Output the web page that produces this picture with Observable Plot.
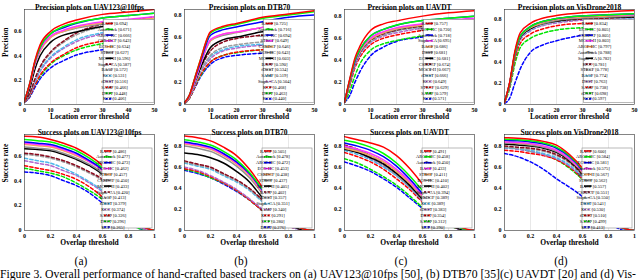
<!DOCTYPE html>
<html><head><meta charset="utf-8">
<script src="https://cdn.jsdelivr.net/npm/d3@7"></script>
<script src="https://cdn.jsdelivr.net/npm/@observablehq/plot@0.6"></script>
<style>
html,body{margin:0;padding:0;background:#fff;}
#fig{position:relative;width:640px;height:280px;overflow:hidden;font-family:"Liberation Serif","DejaVu Serif",serif;background:#fff;}
.panel{position:absolute;}
.sub{position:absolute;top:255px;width:40px;text-align:center;font-size:11.5px;line-height:12px;}
#cap{position:absolute;left:0px;top:269px;font-size:11.7px;line-height:12px;white-space:nowrap;}
</style></head><body><div id="fig"></div>
<script>
// ---------- data ----------
const datasets = ["UAV123@10fps","DTB70","UAVDT","VisDrone2018"];
const subLabels = ["(a)","(b)","(c)","(d)"];
const precX = [0,2,4,6,10,15,20,30,40,50];
const succX = [0,0.1,0.2,0.3,0.4,0.5,0.6,0.7,0.8,0.9,1];
const precXTicks = [0,10,20,30,40,50];
const succXTicks = [0,0.2,0.4,0.6,0.8,1];

// Precision, UAV123@10fps
const precANames = ["RACF","AutoTrack","ARCF-HC","CSR-DCF","ECO-HC","STRCF","MCCT-H","Staple-CA","BACF","KCC","fDSST","SAMF","DSST","KCF"];
const precAScores = [0.694,0.671,0.666,0.643,0.634,0.627,0.596,0.587,0.572,0.531,0.516,0.466,0.448,0.406];
const precAValues = [
 [0.03,0.17,0.36,0.49,0.60,0.66,0.694,0.74,0.76,0.78],
 [0.03,0.17,0.35,0.47,0.58,0.64,0.671,0.71,0.73,0.75],
 [0.03,0.17,0.35,0.47,0.58,0.63,0.666,0.71,0.73,0.75],
 [0.03,0.16,0.33,0.45,0.56,0.61,0.643,0.68,0.70,0.72],
 [0.03,0.16,0.33,0.44,0.55,0.60,0.634,0.67,0.69,0.71],
 [0.03,0.16,0.33,0.44,0.55,0.60,0.627,0.66,0.68,0.70],
 [0.03,0.13,0.29,0.40,0.51,0.57,0.596,0.64,0.66,0.68],
 [0.03,0.09,0.21,0.31,0.43,0.52,0.587,0.66,0.69,0.72],
 [0.03,0.09,0.20,0.30,0.42,0.51,0.572,0.64,0.67,0.70],
 [0.03,0.08,0.19,0.28,0.39,0.47,0.531,0.59,0.63,0.65],
 [0.03,0.08,0.18,0.27,0.38,0.46,0.516,0.58,0.61,0.63],
 [0.02,0.07,0.16,0.24,0.34,0.41,0.466,0.52,0.55,0.57],
 [0.02,0.07,0.16,0.23,0.33,0.40,0.448,0.50,0.53,0.55],
 [0.02,0.06,0.14,0.21,0.30,0.36,0.406,0.45,0.48,0.50]];

// Precision, DTB70
const precBNames = ["RACF","AutoTrack","ARCF-HC","STRCF","CSRDCF","ECO-HC","MCCT-H","BACF","fDSST","SAMF","Staple-CA","KCF","DSST","KCC"];
const precBScores = [0.725,0.716,0.694,0.649,0.646,0.643,0.603,0.590,0.534,0.519,0.504,0.468,0.463,0.440];
const precBValues = [
 [0.015,0.09,0.24,0.39,0.65,0.70,0.725,0.78,0.81,0.84],
 [0.015,0.09,0.24,0.39,0.64,0.69,0.716,0.77,0.80,0.83],
 [0.015,0.09,0.23,0.37,0.62,0.67,0.694,0.74,0.78,0.80],
 [0.013,0.08,0.21,0.35,0.58,0.63,0.649,0.69,0.73,0.75],
 [0.013,0.08,0.21,0.35,0.57,0.63,0.646,0.69,0.72,0.75],
 [0.013,0.08,0.21,0.35,0.57,0.62,0.643,0.69,0.72,0.74],
 [0.012,0.08,0.20,0.32,0.51,0.58,0.603,0.65,0.67,0.69],
 [0.012,0.08,0.21,0.32,0.48,0.56,0.590,0.62,0.64,0.65],
 [0.011,0.07,0.19,0.29,0.44,0.51,0.534,0.56,0.58,0.59],
 [0.010,0.07,0.18,0.29,0.43,0.49,0.519,0.54,0.56,0.57],
 [0.010,0.07,0.18,0.28,0.41,0.48,0.504,0.53,0.54,0.55],
 [0.009,0.06,0.16,0.26,0.38,0.44,0.468,0.49,0.51,0.51],
 [0.009,0.06,0.16,0.25,0.38,0.44,0.463,0.49,0.50,0.51],
 [0.009,0.06,0.15,0.24,0.36,0.42,0.440,0.46,0.48,0.48]];

// Precision, UAVDT
const precCNames = ["RACF","ARCF-HC","AutoTrack","Staple-CA","BACF","DSST","ECO-HC","CSRDCF","MCCT-H","fDSST","KCC","STRCF","SAMF","KCF"];
const precCScores = [0.757,0.720,0.718,0.695,0.686,0.681,0.681,0.674,0.667,0.666,0.649,0.629,0.579,0.571];
const precCValues = [
 [0.02,0.23,0.42,0.53,0.67,0.73,0.757,0.80,0.83,0.85],
 [0.02,0.22,0.40,0.50,0.62,0.68,0.720,0.76,0.78,0.80],
 [0.02,0.22,0.39,0.50,0.62,0.68,0.718,0.76,0.78,0.80],
 [0.02,0.21,0.38,0.49,0.60,0.66,0.695,0.73,0.76,0.78],
 [0.02,0.21,0.38,0.48,0.59,0.65,0.686,0.72,0.75,0.77],
 [0.02,0.20,0.37,0.48,0.59,0.65,0.681,0.72,0.74,0.76],
 [0.02,0.20,0.37,0.48,0.59,0.65,0.681,0.72,0.74,0.76],
 [0.02,0.20,0.37,0.47,0.58,0.64,0.674,0.71,0.73,0.75],
 [0.02,0.20,0.37,0.47,0.57,0.63,0.667,0.70,0.73,0.75],
 [0.02,0.19,0.36,0.46,0.57,0.63,0.666,0.70,0.72,0.74],
 [0.02,0.19,0.35,0.45,0.56,0.62,0.649,0.69,0.71,0.73],
 [0.02,0.17,0.33,0.43,0.54,0.60,0.629,0.67,0.70,0.72],
 [0.02,0.12,0.26,0.37,0.49,0.55,0.579,0.62,0.64,0.66],
 [0.02,0.08,0.20,0.30,0.44,0.52,0.571,0.61,0.63,0.65]];

// Precision, VisDrone2018
const precDNames = ["RACF","ECO-HC","CSRDCF","MCCT-H","ARCF-HC","AutoTrack","Staple-CA","KCC","STRCF","BACF","DSST","SAMF","fDSST","KCF"];
const precDScores = [0.834,0.805,0.805,0.803,0.797,0.788,0.782,0.781,0.778,0.774,0.763,0.738,0.698,0.597];
const precDValues = [
 [0.02,0.21,0.50,0.67,0.76,0.81,0.834,0.86,0.87,0.88],
 [0.02,0.20,0.48,0.64,0.73,0.78,0.805,0.83,0.84,0.85],
 [0.02,0.20,0.48,0.64,0.73,0.78,0.805,0.83,0.84,0.85],
 [0.02,0.20,0.48,0.64,0.73,0.78,0.803,0.83,0.84,0.84],
 [0.02,0.20,0.48,0.64,0.72,0.77,0.797,0.82,0.83,0.84],
 [0.02,0.20,0.47,0.63,0.72,0.76,0.788,0.81,0.82,0.83],
 [0.02,0.20,0.47,0.63,0.71,0.76,0.782,0.81,0.82,0.82],
 [0.02,0.19,0.46,0.62,0.71,0.76,0.781,0.80,0.81,0.82],
 [0.02,0.19,0.46,0.62,0.71,0.75,0.778,0.80,0.81,0.82],
 [0.02,0.19,0.46,0.61,0.70,0.75,0.774,0.80,0.81,0.81],
 [0.02,0.18,0.45,0.60,0.69,0.74,0.763,0.79,0.80,0.80],
 [0.02,0.17,0.42,0.57,0.66,0.71,0.738,0.76,0.77,0.78],
 [0.02,0.15,0.38,0.53,0.62,0.67,0.698,0.72,0.73,0.74],
 [0.01,0.06,0.20,0.33,0.49,0.56,0.597,0.65,0.69,0.72]];

// Success, UAV123@10fps
const succANames = ["RACF","AutoTrack","ARCF-HC","ECO-HC","STRCF","CSRDCF","MCCT-H","Staple-CA","BACF","fDSST","KCC","SAMF","DSST","KCF"];
const succAScores = [0.486,0.477,0.473,0.462,0.457,0.450,0.433,0.420,0.413,0.379,0.374,0.326,0.296,0.265];
const succAValues = [
 [0.755,0.75,0.73,0.70,0.66,0.60,0.52,0.38,0.19,0.04,0],
 [0.73,0.72,0.71,0.68,0.64,0.58,0.50,0.37,0.18,0.04,0],
 [0.71,0.70,0.69,0.66,0.62,0.56,0.49,0.36,0.18,0.04,0],
 [0.70,0.69,0.68,0.65,0.61,0.55,0.48,0.35,0.17,0.03,0],
 [0.69,0.68,0.67,0.64,0.60,0.55,0.48,0.35,0.17,0.03,0],
 [0.67,0.66,0.65,0.62,0.58,0.53,0.46,0.34,0.17,0.03,0],
 [0.655,0.65,0.64,0.61,0.57,0.52,0.45,0.33,0.16,0.03,0],
 [0.62,0.61,0.59,0.56,0.52,0.47,0.41,0.30,0.16,0.03,0],
 [0.61,0.60,0.58,0.55,0.51,0.46,0.40,0.29,0.15,0.03,0],
 [0.58,0.56,0.54,0.50,0.45,0.39,0.32,0.22,0.10,0.02,0],
 [0.56,0.54,0.52,0.48,0.44,0.38,0.31,0.21,0.10,0.02,0],
 [0.52,0.50,0.48,0.45,0.41,0.35,0.27,0.18,0.09,0.02,0],
 [0.50,0.48,0.46,0.43,0.38,0.32,0.25,0.17,0.08,0.01,0],
 [0.47,0.46,0.44,0.40,0.36,0.30,0.22,0.14,0.06,0.01,0]];

// Success, DTB70
const succBNames = ["RACF","AutoTrack","ARCF-HC","ECO-HC","CSRDCF","STRCF","MCCT-H","BACF","fDSST","Staple-CA","SAMF","KCC","KCF","DSST"];
const succBScores = [0.505,0.478,0.472,0.453,0.438,0.437,0.405,0.402,0.357,0.351,0.340,0.291,0.280,0.276];
const succBValues = [
 [0.895,0.88,0.85,0.79,0.71,0.58,0.41,0.24,0.10,0.02,0],
 [0.86,0.84,0.81,0.75,0.67,0.55,0.39,0.23,0.09,0.02,0],
 [0.84,0.82,0.79,0.73,0.65,0.54,0.38,0.22,0.09,0.02,0],
 [0.83,0.81,0.78,0.72,0.64,0.53,0.37,0.22,0.09,0.02,0],
 [0.82,0.80,0.77,0.71,0.63,0.52,0.36,0.21,0.09,0.02,0],
 [0.80,0.78,0.75,0.69,0.61,0.50,0.35,0.20,0.08,0.02,0],
 [0.735,0.72,0.69,0.64,0.56,0.46,0.31,0.18,0.07,0.01,0],
 [0.66,0.63,0.60,0.54,0.48,0.40,0.29,0.17,0.07,0.01,0],
 [0.65,0.62,0.59,0.53,0.47,0.39,0.28,0.17,0.07,0.01,0],
 [0.64,0.61,0.58,0.52,0.46,0.38,0.27,0.16,0.06,0.01,0],
 [0.60,0.57,0.52,0.46,0.39,0.30,0.20,0.11,0.04,0.01,0],
 [0.585,0.56,0.51,0.45,0.38,0.29,0.19,0.11,0.04,0.01,0],
 [0.58,0.55,0.50,0.45,0.38,0.29,0.19,0.10,0.04,0.01,0],
 [0.57,0.54,0.50,0.44,0.37,0.29,0.19,0.10,0.04,0.01,0]];

// Success, UAVDT
const succCNames = ["RACF","ARCF-HC","AutoTrack","BACF","STRCF","ECO-HC","MCCT-H","Staple-CA","CSRDCF","KCC","fDSST","DSST","SAMF","KCF"];
const succCScores = [0.491,0.458,0.450,0.433,0.411,0.410,0.402,0.394,0.389,0.389,0.383,0.354,0.312,0.290];
const succCValues = [
 [0.89,0.86,0.83,0.79,0.71,0.59,0.44,0.28,0.12,0.03,0],
 [0.855,0.83,0.79,0.73,0.64,0.52,0.38,0.24,0.10,0.02,0],
 [0.83,0.80,0.76,0.70,0.61,0.49,0.35,0.22,0.09,0.02,0],
 [0.80,0.77,0.73,0.67,0.58,0.47,0.33,0.21,0.09,0.02,0],
 [0.78,0.75,0.71,0.65,0.56,0.45,0.32,0.20,0.08,0.02,0],
 [0.79,0.76,0.71,0.65,0.56,0.45,0.31,0.19,0.08,0.02,0],
 [0.77,0.74,0.69,0.63,0.54,0.43,0.30,0.18,0.07,0.01,0],
 [0.81,0.77,0.71,0.64,0.55,0.43,0.30,0.18,0.07,0.01,0],
 [0.79,0.75,0.69,0.62,0.53,0.42,0.29,0.17,0.07,0.01,0],
 [0.76,0.72,0.67,0.60,0.52,0.41,0.29,0.17,0.07,0.01,0],
 [0.78,0.74,0.68,0.61,0.52,0.41,0.28,0.17,0.07,0.01,0],
 [0.74,0.70,0.65,0.58,0.49,0.39,0.27,0.16,0.06,0.01,0],
 [0.68,0.64,0.58,0.51,0.43,0.33,0.22,0.13,0.05,0.01,0],
 [0.65,0.61,0.56,0.49,0.41,0.31,0.21,0.12,0.05,0.01,0]];

// Success, VisDrone2018
const succDNames = ["RACF","ARCF-HC","ECO-HC","AutoTrack","MCCT-H","STRCF","BACF","CSRDCF","Staple-CA","DSST","KCC","fDSST","SAMF","KCF"];
const succDScores = [0.600,0.584,0.581,0.575,0.567,0.562,0.557,0.551,0.550,0.541,0.530,0.510,0.499,0.413];
const succDValues = [
 [0.88,0.875,0.865,0.845,0.81,0.72,0.59,0.40,0.18,0.03,0],
 [0.865,0.86,0.85,0.83,0.79,0.71,0.58,0.39,0.18,0.03,0],
 [0.855,0.85,0.84,0.82,0.78,0.70,0.57,0.38,0.17,0.03,0],
 [0.84,0.835,0.825,0.80,0.76,0.68,0.56,0.38,0.17,0.03,0],
 [0.84,0.83,0.82,0.80,0.76,0.68,0.55,0.37,0.17,0.03,0],
 [0.83,0.825,0.81,0.79,0.75,0.67,0.55,0.37,0.16,0.03,0],
 [0.82,0.81,0.80,0.78,0.74,0.66,0.54,0.36,0.16,0.03,0],
 [0.80,0.79,0.78,0.76,0.72,0.65,0.53,0.36,0.16,0.03,0],
 [0.79,0.78,0.77,0.75,0.71,0.64,0.52,0.35,0.16,0.03,0],
 [0.785,0.775,0.76,0.73,0.69,0.62,0.51,0.34,0.15,0.02,0],
 [0.78,0.77,0.75,0.72,0.68,0.61,0.50,0.34,0.15,0.02,0],
 [0.76,0.75,0.73,0.71,0.67,0.60,0.49,0.33,0.15,0.02,0],
 [0.79,0.775,0.75,0.72,0.67,0.59,0.48,0.32,0.14,0.02,0],
 [0.73,0.70,0.65,0.58,0.49,0.41,0.32,0.20,0.08,0.01,0]];

// rank styles (MATLAB OTB toolkit look)
const rankColors = ["#ff0000","#00ff00","#0000ff","#ff33ff","#f9a35e","#8f8f8f","#000000",
                    "#8b0a1e","#9c9c9c","#4db8ea","#b266cc","#ff0000","#00e600","#0000ff"];
const rankDashed = [false,false,false,false,false,false,false,true,true,true,true,true,true,true];

// ---------- drawing ----------
const fig = document.getElementById("fig");
const precSets = [[precANames,precAScores,precAValues],[precBNames,precBScores,precBValues],[precCNames,precCScores,precCValues],[precDNames,precDScores,precDValues]];
const succSets = [[succANames,succAScores,succAValues],[succBNames,succBScores,succBValues],[succCNames,succCScores,succCValues],[succDNames,succDScores,succDValues]];
const precYMax = [0.78,0.85,0.86,0.89];
const succYMax = [0.77,0.91,0.91,0.91];

function panel(col, row) {
  const isPrec = row === 0;
  const [names, scores, values] = isPrec ? precSets[col] : succSets[col];
  const xs = isPrec ? precX : succX;
  const xTicks = isPrec ? precXTicks : succXTicks;
  const yMax = isPrec ? precYMax[col] : succYMax[col];
  const yTicks = [0,0.2,0.4,0.6,0.8].filter(t => t <= yMax);
  const mTop = isPrec ? 9 : 14;
  const height = isPrec ? 124 : 130;
  const marks = [Plot.ruleX(xTicks.slice(1, -1), {stroke: "#dedede", strokeWidth: 0.7})];
  for (let k = names.length - 1; k >= 0; k--) {
    const opts = {stroke: rankColors[k], strokeWidth: 1.5, curve: "monotone-x", clip: true};
    if (rankDashed[k]) opts.strokeDasharray = "3.2,2.2";
    marks.push(Plot.line(values[k].map((v, j) => [xs[j], v]), opts));
  }
  marks.push(
    Plot.frame({stroke: "#333", strokeWidth: 0.6}),
    Plot.axisX({ticks: xTicks, tickSize: 0, tickPadding: 3, label: null, tickFormat: d => String(d)}),
    Plot.axisY({ticks: yTicks, tickSize: 0, tickPadding: 3, label: null, tickFormat: d => String(d)}),
    Plot.text([(isPrec ? "Precision plots on " : "Success plots on ") + datasets[col]],
      {frameAnchor: "top", dy: -5, fontSize: 7.5, fontWeight: "bold", text: d => d}),
    Plot.text([isPrec ? "Location error threshold" : "Overlap threshold"],
      {frameAnchor: "bottom", dy: 14, fontSize: 7.5, fontWeight: "bold", text: d => d}),
    Plot.text([isPrec ? "Precision" : "Success rate"],
      {frameAnchor: "left", dx: -19, rotate: -90, fontSize: 7.5, fontWeight: "bold", text: d => d})
  );
  const svg = Plot.plot({
    width: 160, height,
    marginTop: mTop, marginBottom: 20, marginLeft: 24, marginRight: 6,
    x: {domain: [xs[0], xs[xs.length - 1]]},
    y: {domain: [0, yMax]},
    style: {fontFamily: "Liberation Serif", fontSize: "6px", fontWeight: "bold", background: "transparent", overflow: "visible"},
    marks
  });
  // legend box
  const bx = isPrec ? 103.5 : 102, bw = isPrec ? 50.5 : 50;
  const by = isPrec ? 19.5 : 28, bh = isPrec ? 83 : 80;
  const first = isPrec ? 23.5 : 31, step = isPrec ? 5.8 : 5.85;
  const g = d3.select(svg).append("g");
  g.append("rect").attr("x", bx).attr("y", by).attr("width", bw).attr("height", bh)
    .attr("fill", "#fff").attr("stroke", "#8a8a8a").attr("stroke-width", 0.6);
  names.forEach((n, k) => {
    const y = first + k * step;
    const ln = g.append("line").attr("x1", bx + 2).attr("x2", bx + 9.5).attr("y1", y).attr("y2", y)
      .attr("stroke", rankColors[k]).attr("stroke-width", 1.6);
    if (rankDashed[k]) ln.attr("stroke-dasharray", "2.2,1.4");
    g.append("text").attr("x", bx + 11).attr("y", y).attr("dy", "0.35em")
      .attr("font-size", 4.5).attr("font-weight", "normal").attr("fill", "#000")
      .text(`${n} [${scores[k].toFixed(3)}]`);
  });
  const wrap = document.createElement("div");
  wrap.className = "panel";
  wrap.style.left = (col * 160) + "px";
  wrap.style.top = (isPrec ? 0 : 120) + "px";
  wrap.appendChild(svg);
  fig.appendChild(wrap);
}
for (let c = 0; c < 4; c++) { panel(c, 0); panel(c, 1); }
subLabels.forEach((s, c) => {
  const d = document.createElement("div");
  d.className = "sub"; d.style.left = (c * 160 + 61) + "px"; d.textContent = s;
  fig.appendChild(d);
});
const cap = document.createElement("div");
cap.id = "cap";
cap.textContent = "Figure 3. Overall performance of hand-crafted based trackers on (a) UAV123@10fps [50], (b) DTB70 [35](c) UAVDT [20] and (d) Vis-";
fig.appendChild(cap);
</script></body></html>
